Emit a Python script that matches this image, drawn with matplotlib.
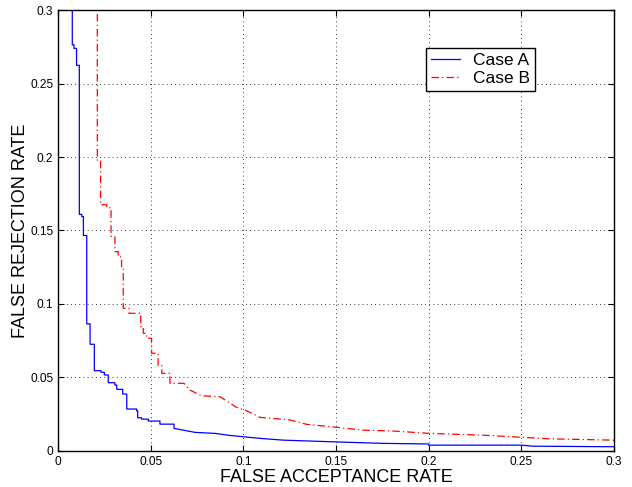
import matplotlib
matplotlib.use("Agg")
import matplotlib.pyplot as plt
import numpy as np

plt.rcParams['font.family'] = ['Liberation Sans', 'DejaVu Sans']

# Case A: stepped head (FAR where FRR drops, FRR level after drop)
far_a_step = [0.0077, 0.0077, 0.0086, 0.0100, 0.0115, 0.0128, 0.0137, 0.0155, 0.0173,
              0.0196, 0.0232, 0.0250, 0.0271, 0.0307, 0.0317, 0.0349, 0.0371, 0.0424,
              0.0430, 0.0451, 0.0487, 0.0550]
frr_a_step = [0.320, 0.2765, 0.2740, 0.2625, 0.1610, 0.1595, 0.1466, 0.0864, 0.0725,
              0.0545, 0.0534, 0.0516, 0.0463, 0.0447, 0.0418, 0.0386, 0.0284, 0.0272,
              0.0224, 0.0215, 0.0202, 0.0181]
# Case A: tail (points joined directly)
far_a_tail = [0.0626, 0.0626, 0.0739, 0.0847, 0.0928, 0.1090, 0.1215, 0.1500, 0.1755,
              0.2000, 0.2000, 0.2500, 0.2560, 0.3000]
frr_a_tail = [0.0181, 0.0152, 0.0125, 0.0118, 0.0104, 0.0084, 0.0072, 0.0060, 0.0050,
              0.0046, 0.0038, 0.0038, 0.0031, 0.0027]

# Case B
far_b_step = [0.0212, 0.0212, 0.0230, 0.0263, 0.0286, 0.0307, 0.0325, 0.0343, 0.0352,
              0.0383, 0.0446, 0.0460, 0.0478, 0.0505, 0.0540, 0.0560, 0.0604]
frr_b_step = [0.320, 0.1980, 0.1675, 0.1655, 0.1460, 0.1356, 0.1320, 0.1250, 0.0970,
              0.0936, 0.0845, 0.0800, 0.0766, 0.0664, 0.0580, 0.0527, 0.0459]
far_b_tail = [0.0680, 0.0712, 0.0775, 0.0874, 0.0964, 0.1018, 0.1090, 0.1250, 0.1340,
              0.1500, 0.1647, 0.1810, 0.2006, 0.2290, 0.2510, 0.2650, 0.3000]
frr_b_tail = [0.0459, 0.0413, 0.0374, 0.0368, 0.0295, 0.0272, 0.0227, 0.0210, 0.0180,
              0.0160, 0.0140, 0.0134, 0.0118, 0.0106, 0.0091, 0.0081, 0.0072]

ticks = [0, 0.05, 0.1, 0.15, 0.2, 0.25, 0.3]
tick_labels = ['0', '0.05', '0.1', '0.15', '0.2', '0.25', '0.3']


def curve(xs, ys, xt, yt):
    vx, vy = [xs[0]], [ys[0]]
    for i in range(1, len(xs)):
        vx += [xs[i], xs[i]]
        vy += [ys[i - 1], ys[i]]
    return np.array(vx + list(xt)), np.array(vy + list(yt))


xa, ya = curve(far_a_step, frr_a_step, far_a_tail, frr_a_tail)
xb, yb = curve(far_b_step, frr_b_step, far_b_tail, frr_b_tail)

fig = plt.figure(figsize=(6.32, 4.87), dpi=100)
ax = fig.add_axes([0.0918, 0.0745, 0.8797, 0.9045])

ax.plot(xa, ya, color='#0000ff', lw=0.9, label='Case A')
ax.plot(xb, yb, color='#ff0000', lw=0.9, linestyle=(0, (6, 2.5, 1, 2.5)), label='Case B')

ax.set_xlim(0, 0.3)
ax.set_ylim(0, 0.3)
ax.set_xticks(ticks)
ax.set_xticklabels(tick_labels)
ax.set_yticks(ticks)
ax.set_yticklabels(tick_labels)
ax.tick_params(direction='in', top=True, right=True, labelsize=8.6, length=4, width=0.8, pad=3.5)
ax.grid(True, linestyle=(0, (1, 4)), color='black', lw=0.6)
for s in ax.spines.values():
    s.set_linewidth(1.0)

ax.set_xlabel('FALSE ACCEPTANCE RATE', fontsize=13, labelpad=1)
ax.set_ylabel('FALSE REJECTION RATE', fontsize=13)
ax.yaxis.set_label_coords(-0.053, 0.5)

leg = ax.legend(loc='upper left', bbox_to_anchor=(0.661, 0.914), fontsize=12.5,
                frameon=True, fancybox=False, edgecolor='black', framealpha=1,
                handlelength=1.7, borderpad=0.3, labelspacing=0.15, handletextpad=0.75,
                borderaxespad=0)
leg.get_frame().set_linewidth(1.0)

fig.savefig('out.png', dpi=100)
